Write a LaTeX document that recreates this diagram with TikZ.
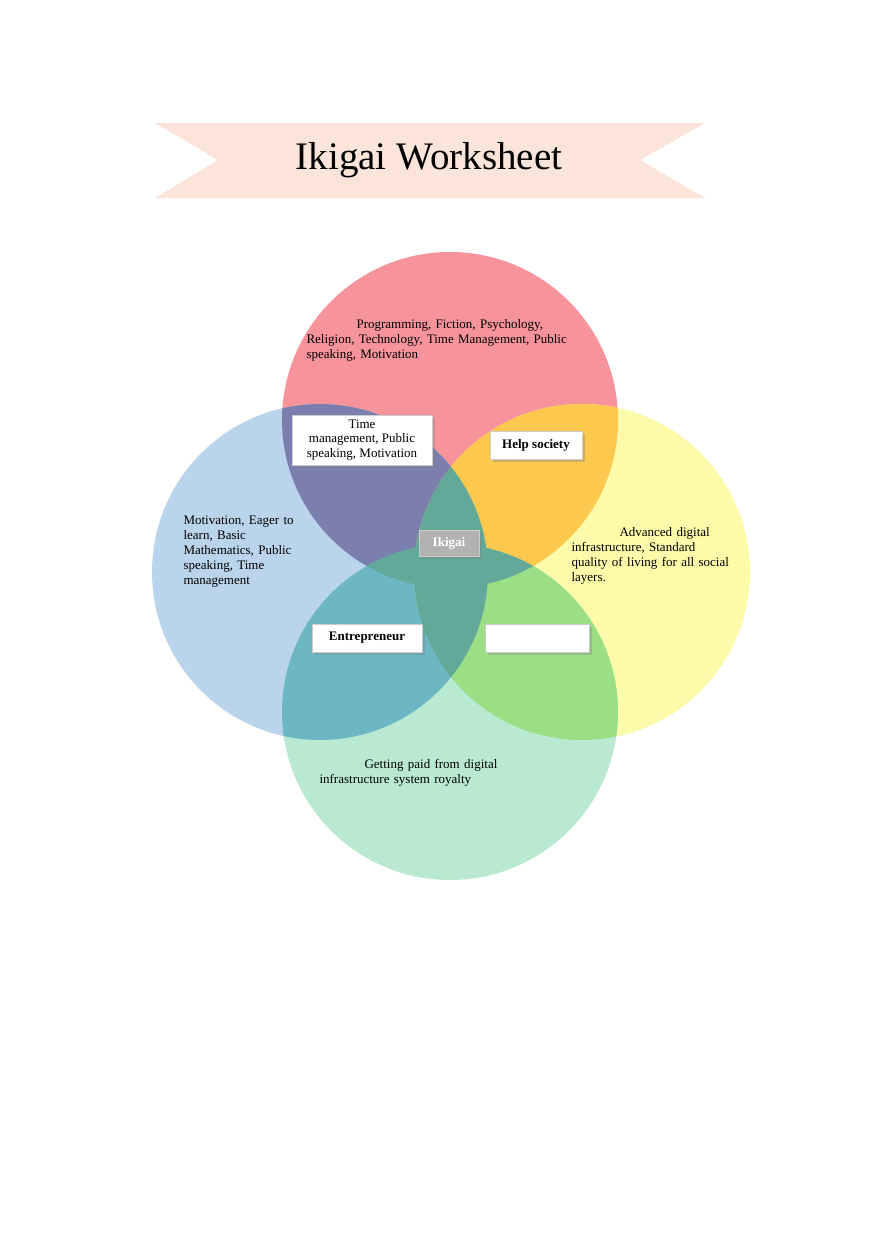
\documentclass[tikz,border=0pt]{standalone}
\usepackage{fontspec}
\setmainfont{Liberation Serif}
\tikzset{
  lbl/.style={font=\fontsize{13}{15}\selectfont,align=left,text width=#1},
  tag/.style={fill=white,draw=gray!40,drop shadow={shadow xshift=3pt,shadow yshift=-3pt,opacity=.35},
    font=\fontsize{13}{14.5}\selectfont,align=center,inner sep=3pt}
}
\usetikzlibrary{shadows}
\definecolor{redc}{HTML}{F7939B}
\definecolor{bluec}{HTML}{BAD4EB}
\definecolor{yelc}{HTML}{FDFBA9}
\definecolor{grnc}{HTML}{B9E9D0}
\definecolor{rb}{HTML}{7B7FAE}
\definecolor{ry}{HTML}{FCC84E}
\definecolor{bg}{HTML}{6DB7C5}
\definecolor{yg}{HTML}{9CDE86}
\definecolor{mid}{HTML}{63A99A}
\definecolor{banner}{HTML}{FBE4DA}
\begin{document}
\begin{tikzpicture}[x=1pt,y=-1pt]
\useasboundingbox (0,0) rectangle (880,1247);
\fill[white] (0,0) rectangle (880,1247);
% banner
\fill[banner] (155,123) -- (705,123) -- (640,160) -- (705,198) -- (155,198) -- (218,160) -- cycle;
\node (title) at (429,160) {\fontsize{39}{42}\selectfont Ikigai Worksheet};
% circles
\coordinate (cr) at (450,420);
\coordinate (cb) at (320,572);
\coordinate (cy) at (582,572);
\coordinate (cg) at (450,712);
\def\rad{168}
\fill[redc] (cr) circle (\rad);
\fill[bluec] (cb) circle (\rad);
\fill[yelc] (cy) circle (\rad);
\fill[grnc] (cg) circle (\rad);
% overlaps
\begin{scope}\clip (cr) circle (\rad); \fill[rb] (cb) circle (\rad); \fill[ry] (cy) circle (\rad);\end{scope}
\begin{scope}\clip (cg) circle (\rad); \fill[bg] (cb) circle (\rad); \fill[yg] (cy) circle (\rad);\end{scope}
\begin{scope}\clip (cb) circle (\rad); \clip (cy) circle (\rad); \fill[mid] (cr) circle (\rad); \fill[mid] (cg) circle (\rad);\end{scope}
\begin{scope}\clip (cr) circle (\rad); \clip (cg) circle (\rad); \fill[mid] (cb) circle (\rad); \fill[mid] (cy) circle (\rad);\end{scope}
% texts
\node[lbl=290pt,anchor=north west] (love) at (303,316) {\hspace*{50pt}Programming, Fiction, Psychology,\\Religion, Technology, Time Management, Public\\speaking, Motivation};
\node[lbl=140pt,anchor=north west] (good) at (180,512) {Motivation, Eager to\\learn, Basic\\Mathematics, Public\\speaking, Time\\management};
\node[lbl=190pt,anchor=north west] (need) at (568,524) {\hspace*{48pt}Advanced digital\\infrastructure, Standard\\quality of living for all social\\layers.};
\node[lbl=210pt,anchor=north west] (paid) at (316,756) {\hspace*{45pt}Getting paid from digital\\infrastructure system royalty};
% tags
\node[tag,minimum width=140pt,minimum height=50pt] (passion) at (362,440) {Time\\management, Public\\speaking, Motivation};
\node[tag,minimum width=92pt,minimum height=28pt] (mission) at (536,445) {\bfseries Help society};
\node[tag,fill=gray!60,text=white,minimum width=60pt,minimum height=26pt] (ikigai) at (449,543) {\bfseries Ikigai};
\node[tag,minimum width=110pt,minimum height=28pt] (prof) at (367,638) {\bfseries Entrepreneur};
\node[tag,minimum width=104pt,minimum height=28pt] (voc) at (537,638) {};
\end{tikzpicture}
\end{document}
